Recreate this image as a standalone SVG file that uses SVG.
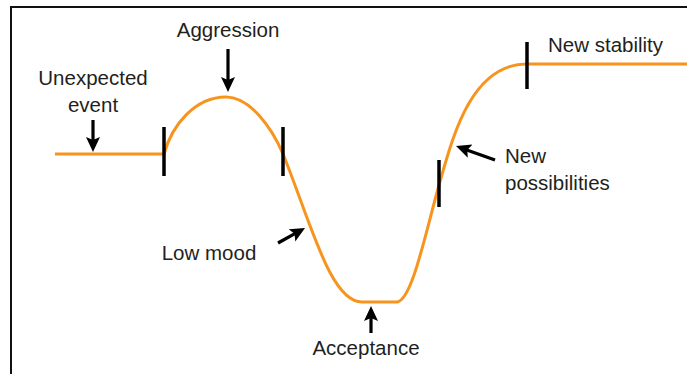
<svg xmlns="http://www.w3.org/2000/svg" width="687" height="374" viewBox="0 0 687 374">
  <style>
    .lbl { font-family: "Liberation Sans", Arial, sans-serif; font-size: 20.5px; fill: #231f20; }
    .curve { fill: none; stroke: #f7941d; stroke-width: 3; stroke-linecap: butt; stroke-linejoin: round; }
    .tick { stroke: #000; stroke-width: 3.5; }
    .arrow { stroke: #000; stroke-width: 3.2; fill: none; marker-end: url(#ah); }
  </style>
  <defs>
    <marker id="ah" markerUnits="userSpaceOnUse" markerWidth="16" markerHeight="16" refX="8" refY="7" orient="auto">
      <path d="M0,0 L15,7 L0,14 L3,7 z" fill="#000"/>
    </marker>
  </defs>
  <rect width="687" height="374" fill="#fff"/>
  <rect id="frame" x="11" y="7" width="700" height="400" fill="none" stroke="#111" stroke-width="2"/>

  <g id="curve">
    <path class="curve" d="M55,154 L164,154 C172,125 195,97 226,97 C250,97 272,128 283,154 C310,220 330,302 362,302 L397,302 C412,300 425,235 439,185 C452,140 470,64 527,64 L687,64"/>
  </g>

  <g id="ticks">
    <line class="tick" x1="164" y1="127" x2="164" y2="176"/>
    <line class="tick" x1="283" y1="127" x2="283" y2="176"/>
    <line class="tick" x1="439" y1="160" x2="439" y2="207"/>
    <line class="tick" x1="527" y1="42" x2="527" y2="89"/>
  </g>

  <g id="connectors">
    <line class="arrow" x1="93" y1="120" x2="93" y2="145"/>
    <line class="arrow" x1="228" y1="49" x2="228" y2="85"/>
    <line class="arrow" x1="278" y1="243" x2="298.9" y2="231.4"/>
    <line class="arrow" x1="371" y1="333" x2="371" y2="313"/>
    <line class="arrow" x1="495" y1="160" x2="462.6" y2="148.4"/>
  </g>

  <g id="unexpected-event">
    <text class="lbl" x="93" y="85" text-anchor="middle">Unexpected</text>
    <text class="lbl" x="93" y="112" text-anchor="middle">event</text>
  </g>
  <g id="aggression">
    <text class="lbl" x="228" y="37" text-anchor="middle">Aggression</text>
  </g>
  <g id="low-mood">
    <text class="lbl" x="209" y="260" text-anchor="middle">Low mood</text>
  </g>
  <g id="acceptance">
    <text class="lbl" x="366" y="355" text-anchor="middle">Acceptance</text>
  </g>
  <g id="new-possibilities">
    <text class="lbl" x="505" y="163">New</text>
    <text class="lbl" x="505" y="190">possibilities</text>
  </g>
  <g id="new-stability">
    <text class="lbl" x="548" y="52">New stability</text>
  </g>
</svg>
